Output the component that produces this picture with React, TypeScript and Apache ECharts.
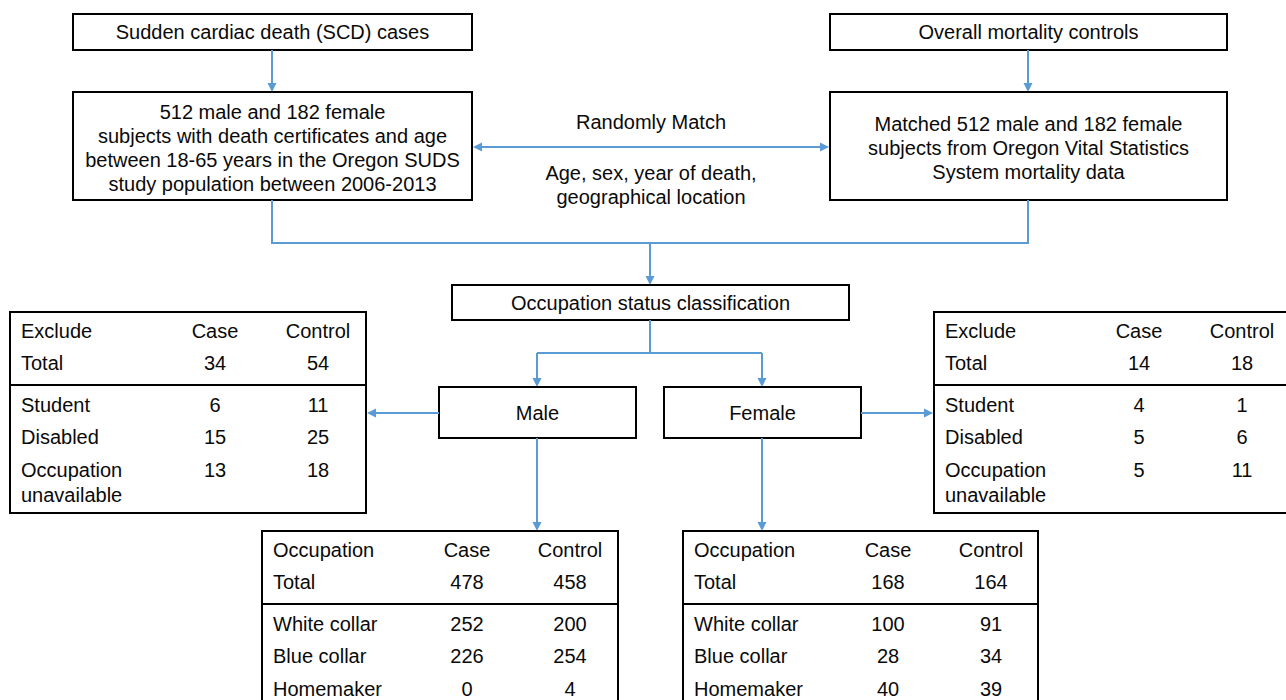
import React, { useEffect, useRef } from 'react';
import * as echarts from 'echarts';

const W = 1286;
const H = 700;
const BLUE = '#5B9BD5';
const FONT_FAMILY = '"Liberation Sans", Arial, Helvetica, sans-serif';
const FS = 20;

// ---- text / data ----
const scdTitle = 'Sudden cardiac death (SCD) cases';
const scdDetail = [
  '512 male and 182 female',
  'subjects with death certificates and age',
  'between 18-65 years in the Oregon SUDS',
  'study population between 2006-2013',
];
const ctrlTitle = 'Overall mortality controls';
const ctrlDetail = [
  'Matched 512 male and 182 female',
  'subjects from Oregon Vital Statistics',
  'System mortality data',
];
const matchLabel = 'Randomly Match';
const matchCriteria = ['Age, sex, year of death,', 'geographical location'];
const classifyLabel = 'Occupation status classification';
const sexLabels = ['Male', 'Female'];
const colHeaders = ['Case', 'Control'];

const excludeHeader = 'Exclude';
const excludeRows = ['Student', 'Disabled', 'Occupation\nunavailable'];
const maleExcludeTotal = [34, 54];
const maleExcludeCase = [6, 15, 13];
const maleExcludeControl = [11, 25, 18];
const femaleExcludeTotal = [14, 18];
const femaleExcludeCase = [4, 5, 5];
const femaleExcludeControl = [1, 6, 11];

const occHeader = 'Occupation';
const occRows = ['White collar', 'Blue collar', 'Homemaker'];
const maleOccTotal = [478, 458];
const maleOccCase = [252, 226, 0];
const maleOccControl = [200, 254, 4];
const femaleOccTotal = [168, 164];
const femaleOccCase = [100, 28, 40];
const femaleOccControl = [91, 34, 39];

// ---- drawing helpers ----
function txt(x: number, y: number, s: string, align: string = 'center', vAlign: string = 'middle') {
  return {
    type: 'text',
    x,
    y,
    silent: true,
    style: {
      text: s,
      fill: '#0a0a0a',
      font: `${FS}px ${FONT_FAMILY}`,
      align,
      verticalAlign: vAlign,
      textAlign: align,
      textVerticalAlign: vAlign,
    },
  };
}

function box(x: number, y: number, w: number, h: number) {
  return {
    type: 'rect',
    shape: { x, y, width: w, height: h },
    style: { fill: '#fff', stroke: '#000', lineWidth: 2 },
  };
}

function hline(x1: number, x2: number, y: number, color = '#000') {
  return {
    type: 'line',
    shape: { x1, y1: y, x2, y2: y },
    style: { stroke: color, lineWidth: 2 },
  };
}

function poly(points: number[][]) {
  return {
    type: 'polyline',
    shape: { points },
    style: { stroke: BLUE, lineWidth: 2, fill: null },
  };
}

function head(x: number, y: number, dir: 'down' | 'left' | 'right') {
  const L = 9;
  const h = 4.5;
  let pts: number[][];
  if (dir === 'down') pts = [[x, y], [x - h, y - L], [x + h, y - L]];
  else if (dir === 'left') pts = [[x, y], [x + L, y - h], [x + L, y + h]];
  else pts = [[x, y], [x - L, y - h], [x - L, y + h]];
  return { type: 'polygon', shape: { points: pts }, style: { fill: BLUE } };
}

function arrowDown(x: number, y1: number, y2: number) {
  return [poly([[x, y1], [x, y2 - 6]]), head(x, y2, 'down')];
}

function centeredLines(cx: number, firstY: number, lines: string[], lh: number) {
  return lines.map((l, i) => txt(cx, firstY + i * lh, l));
}

function table(
  x: number,
  y: number,
  w: number,
  h: number,
  header: string,
  totals: number[],
  rows: string[],
  caseVals: number[],
  ctrlVals: number[],
) {
  const els: any[] = [];
  els.push(box(x, y, w, h));
  els.push(hline(x, x + w, y + 73));
  const lx = x + 11;
  const cx = x + 205;
  const kx = x + 308;
  els.push(txt(lx, y + 19, header, 'left'));
  els.push(txt(cx, y + 19, colHeaders[0]));
  els.push(txt(kx, y + 19, colHeaders[1]));
  els.push(txt(lx, y + 51, 'Total', 'left'));
  els.push(txt(cx, y + 51, String(totals[0])));
  els.push(txt(kx, y + 51, String(totals[1])));
  const rowY = [93, 125, 158];
  rows.forEach((r, i) => {
    const ry = y + rowY[i];
    r.split('\n').forEach((part, j) => els.push(txt(lx, ry + j * 25, part, 'left')));
    els.push(txt(cx, ry, String(caseVals[i])));
    els.push(txt(kx, ry, String(ctrlVals[i])));
  });
  return els;
}

function buildGraphics() {
  const g: any[] = [];
  // top-left
  g.push(box(73, 14, 399, 36));
  g.push(txt(272.5, 32, scdTitle));
  g.push(...arrowDown(272, 50, 92));
  g.push(box(73, 92, 399, 108));
  g.push(...centeredLines(272.5, 112, scdDetail, 24));
  // top-right
  g.push(box(830, 14, 397, 36));
  g.push(txt(1028.5, 32, ctrlTitle));
  g.push(...arrowDown(1028, 50, 92));
  g.push(box(830, 92, 397, 108));
  g.push(...centeredLines(1028.5, 124, ctrlDetail, 24));
  // matching arrow
  g.push(poly([[478, 147], [824, 147]]));
  g.push(head(473, 147, 'left'));
  g.push(head(829, 147, 'right'));
  g.push(txt(651, 122, matchLabel));
  g.push(...centeredLines(651, 173, matchCriteria, 24));
  // merge
  g.push(poly([[272, 200], [272, 243], [1028, 243], [1028, 200]]));
  g.push(...arrowDown(650, 243, 285));
  g.push(box(452, 285, 397, 35));
  g.push(txt(650.5, 303, classifyLabel));
  // split
  g.push(poly([[650, 320], [650, 353]]));
  g.push(poly([[537, 353], [762, 353]]));
  g.push(...arrowDown(537, 353, 387));
  g.push(...arrowDown(762, 353, 387));
  g.push(box(439, 387, 197, 51));
  g.push(txt(537.5, 413, sexLabels[0]));
  g.push(box(664, 387, 197, 51));
  g.push(txt(762.5, 413, sexLabels[1]));
  // exclusions
  g.push(poly([[439, 413], [373, 413]]));
  g.push(head(367, 413, 'left'));
  g.push(poly([[861, 413], [927, 413]]));
  g.push(head(933, 413, 'right'));
  g.push(...table(10, 312, 356, 201, excludeHeader, maleExcludeTotal, excludeRows, maleExcludeCase, maleExcludeControl));
  g.push(...table(934, 312, 362, 201, excludeHeader, femaleExcludeTotal, excludeRows, femaleExcludeCase, femaleExcludeControl));
  // occupations
  g.push(...arrowDown(537, 438, 531));
  g.push(...arrowDown(762, 438, 531));
  g.push(...table(262, 531, 356, 200, occHeader, maleOccTotal, occRows, maleOccCase, maleOccControl));
  g.push(...table(683, 531, 355, 200, occHeader, femaleOccTotal, occRows, femaleOccCase, femaleOccControl));
  return g;
}

export default function App() {
  const ref = useRef<HTMLDivElement>(null);
  useEffect(() => {
    if (!ref.current) return;
    const chart = echarts.init(ref.current, undefined, { renderer: 'svg', width: W, height: H });
    chart.setOption({
      animation: false,
      backgroundColor: '#ffffff',
      graphic: { elements: buildGraphics() },
    });
    return () => chart.dispose();
  }, []);
  return (
    <div
      ref={ref}
      style={{ position: 'fixed', left: 0, top: 0, width: W, height: H, background: '#fff' }}
    />
  );
}
